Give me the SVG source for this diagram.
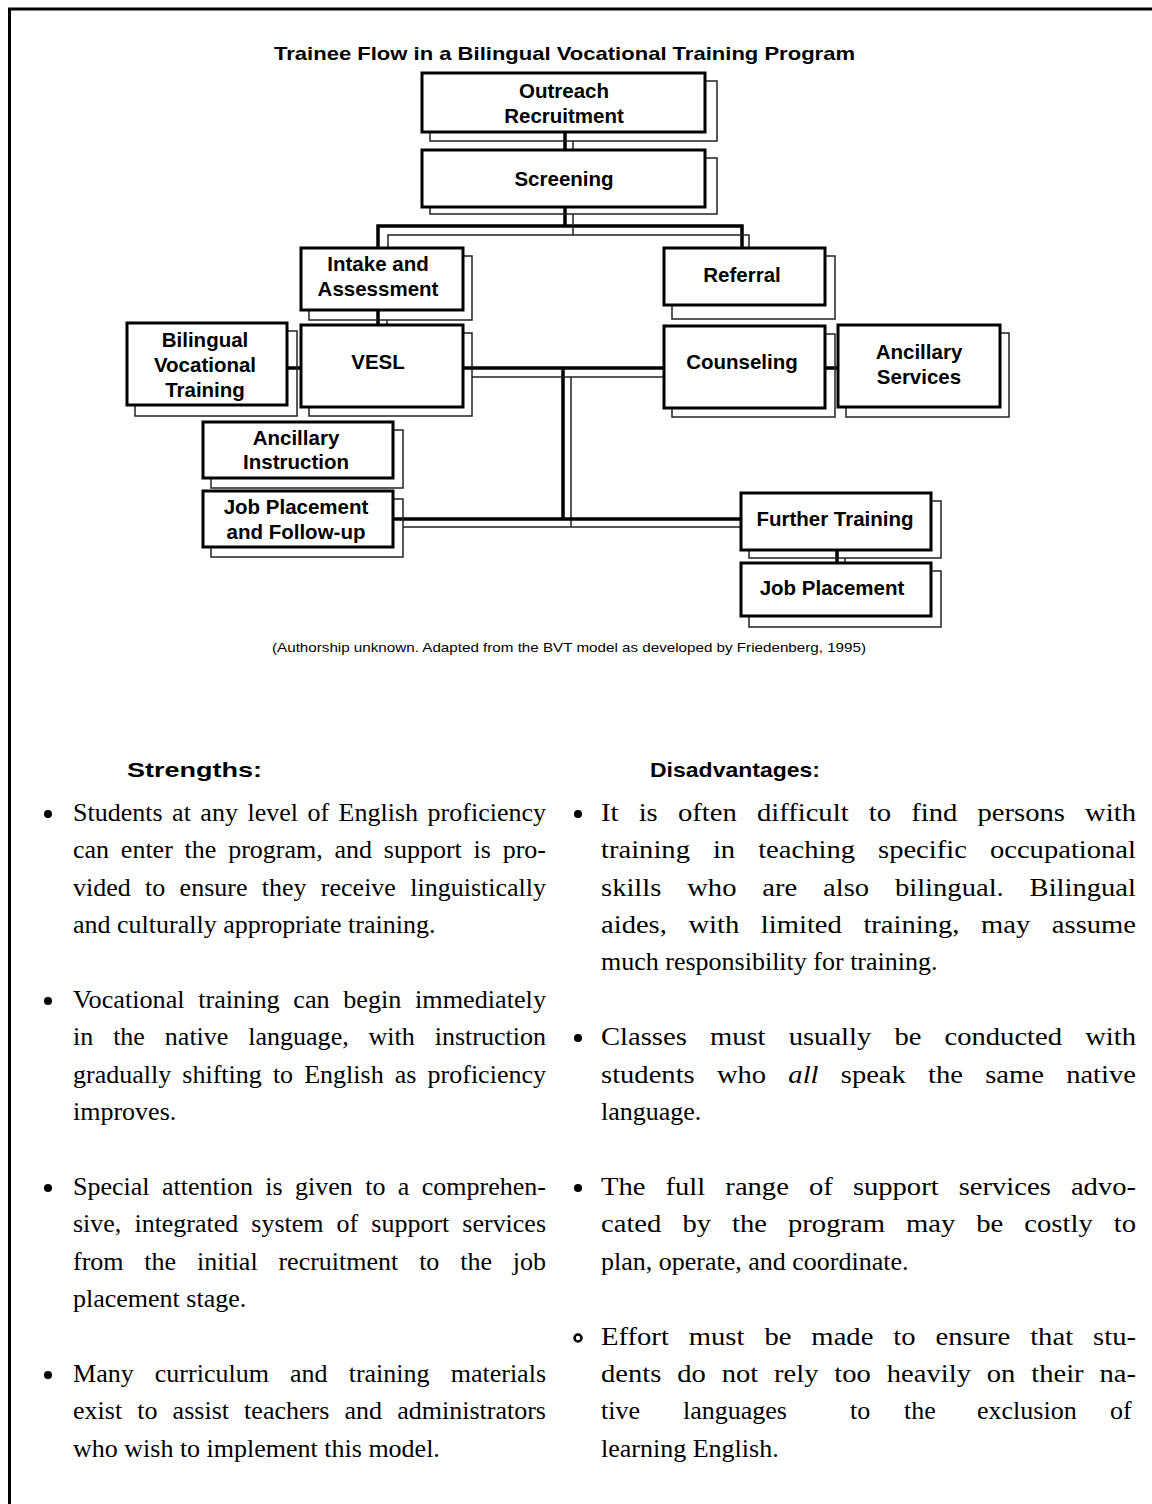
<svg xmlns="http://www.w3.org/2000/svg" width="1152" height="1504" viewBox="0 0 1152 1504">
  <style>
    .page { fill: none; stroke: #000; stroke-width: 3; }
    .box { fill: #fff; stroke: #000; stroke-width: 3; }
    .shadow { fill: none; stroke: #222; stroke-width: 1.5; }
    .lbl { font-family: "Liberation Sans", Arial, sans-serif; font-weight: bold; font-size: 20.5px; text-anchor: middle; fill: #000; }
    .title { font-family: "Liberation Sans", Arial, sans-serif; font-weight: bold; font-size: 19px; fill: #000; }
    .caption { font-family: "Liberation Sans", Arial, sans-serif; font-size: 13.5px; fill: #000; }
    .wire { stroke: #000; stroke-width: 3.5; fill: none; }
    .wire2 { stroke: #222; stroke-width: 1.5; fill: none; }
    .head { font-family: "Liberation Sans", Arial, sans-serif; font-weight: bold; font-size: 21px; fill: #000; }
    .body { font-family: "Liberation Serif", "Times New Roman", serif; font-size: 26px; fill: #000; }
    .bullet { fill: #000; }
  </style>

  <!-- page frame: left and top rules -->
  <path class="page" d="M 9.5 1504 V 9 H 1152"/>

  <text class="title" x="274" y="60" textLength="581" lengthAdjust="spacingAndGlyphs">Trainee Flow in a Bilingual Vocational Training Program</text>

  <!-- connectors -->
  <g id="connectors">
    <!-- Outreach -> Screening -->
    <path class="wire" d="M 565 132 V 150"/>
    <path class="wire2" d="M 573 141 V 150"/>
    <!-- Screening -> Intake / Referral -->
    <path class="wire" d="M 565 207 V 226 M 378 248 V 226 H 742 V 248"/>
    <path class="wire2" d="M 573 214 V 235 M 388 248 V 235 H 749 V 248"/>
    <!-- Intake -> VESL -->
    <path class="wire" d="M 378 310 V 325"/>
    <path class="wire2" d="M 387 320 V 325"/>
    <!-- Bilingual Vocational Training - VESL -->
    <path class="wire" d="M 287 368 H 301"/>
    <!-- VESL - Counseling, trunk down -->
    <path class="wire" d="M 463 368 H 664 M 563 368 V 519"/>
    <path class="wire2" d="M 472 377 H 664 M 571 377 V 527"/>
    <!-- Counseling - Ancillary Services -->
    <path class="wire" d="M 825 368 H 838"/>
    <!-- Job Placement and Follow-up - Further Training -->
    <path class="wire" d="M 393 519 H 741"/>
    <path class="wire2" d="M 403 527 H 741"/>
    <!-- Further Training -> Job Placement -->
    <path class="wire" d="M 837 550 V 563"/>
    <path class="wire2" d="M 845 558 V 563"/>
  </g>

  <g id="outreach">
    <rect class="shadow" x="430" y="81" width="287" height="60"/>
    <rect class="box" x="422" y="73" width="283" height="59"/>
    <text class="lbl" x="564" y="98">Outreach</text>
    <text class="lbl" x="564" y="123">Recruitment</text>
  </g>

  <g id="screening">
    <rect class="shadow" x="430" y="158" width="287" height="56"/>
    <rect class="box" x="422" y="150" width="283" height="57"/>
    <text class="lbl" x="564" y="186">Screening</text>
  </g>

  <g id="intake">
    <rect class="shadow" x="309" y="256" width="163" height="64"/>
    <rect class="box" x="301" y="248" width="162" height="62"/>
    <text class="lbl" x="378" y="271">Intake and</text>
    <text class="lbl" x="378" y="296">Assessment</text>
  </g>

  <g id="referral">
    <rect class="shadow" x="672" y="256" width="163" height="63"/>
    <rect class="box" x="664" y="248" width="161" height="57"/>
    <text class="lbl" x="742" y="282">Referral</text>
  </g>

  <g id="bvt">
    <rect class="shadow" x="135" y="331" width="162" height="85"/>
    <rect class="box" x="127" y="323" width="160" height="82"/>
    <text class="lbl" x="205" y="347">Bilingual</text>
    <text class="lbl" x="205" y="372">Vocational</text>
    <text class="lbl" x="205" y="397">Training</text>
  </g>

  <g id="vesl">
    <rect class="shadow" x="309" y="333" width="163" height="83"/>
    <rect class="box" x="301" y="325" width="162" height="82"/>
    <text class="lbl" x="378" y="369">VESL</text>
  </g>

  <g id="counseling">
    <rect class="shadow" x="672" y="334" width="163" height="83"/>
    <rect class="box" x="664" y="326" width="161" height="82"/>
    <text class="lbl" x="742" y="369">Counseling</text>
  </g>

  <g id="ancillary-services">
    <rect class="shadow" x="846" y="333" width="163" height="84"/>
    <rect class="box" x="838" y="325" width="162" height="82"/>
    <text class="lbl" x="919" y="359">Ancillary</text>
    <text class="lbl" x="919" y="384">Services</text>
  </g>

  <g id="ancillary-instruction">
    <rect class="shadow" x="211" y="430" width="192" height="58"/>
    <rect class="box" x="203" y="422" width="190" height="56"/>
    <text class="lbl" x="296" y="445">Ancillary</text>
    <text class="lbl" x="296" y="469">Instruction</text>
  </g>

  <g id="job-placement-follow-up">
    <rect class="shadow" x="211" y="499" width="192" height="58"/>
    <rect class="box" x="203" y="491" width="190" height="56"/>
    <text class="lbl" x="296" y="514">Job Placement</text>
    <text class="lbl" x="296" y="539">and Follow-up</text>
  </g>

  <g id="further-training">
    <rect class="shadow" x="749" y="501" width="192" height="57"/>
    <rect class="box" x="741" y="493" width="190" height="57"/>
    <text class="lbl" x="835" y="526">Further Training</text>
  </g>

  <g id="job-placement">
    <rect class="shadow" x="749" y="571" width="192" height="56"/>
    <rect class="box" x="741" y="563" width="190" height="53"/>
    <text class="lbl" x="832" y="595">Job Placement</text>
  </g>

  <text class="caption" x="272" y="652" textLength="594" lengthAdjust="spacingAndGlyphs">(Authorship unknown. Adapted from the BVT model as developed by Friedenberg, 1995)</text>

  <!-- Strengths column: justified lines set to the column measure -->
  <text class="head" x="127" y="777" textLength="135" lengthAdjust="spacingAndGlyphs">Strengths:</text>
  <g id="strengths">
    <circle class="bullet" cx="48" cy="814" r="4"/>
    <text class="body" x="73" y="821" word-spacing="3" textLength="473" lengthAdjust="spacingAndGlyphs">Students at any level of English proficiency</text>
    <text class="body" x="73" y="858" word-spacing="5.3" textLength="473" lengthAdjust="spacingAndGlyphs">can enter the program, and support is pro-</text>
    <text class="body" x="73" y="896" word-spacing="7.8" textLength="473" lengthAdjust="spacingAndGlyphs">vided to ensure they receive linguistically</text>
    <text class="body" x="73" y="933">and culturally appropriate training.</text>

    <circle class="bullet" cx="48" cy="1001" r="4"/>
    <text class="body" x="73" y="1008" word-spacing="7" textLength="473" lengthAdjust="spacingAndGlyphs">Vocational training can begin immediately</text>
    <text class="body" x="73" y="1045" word-spacing="13.4" textLength="473" lengthAdjust="spacingAndGlyphs">in the native language, with instruction</text>
    <text class="body" x="73" y="1083" word-spacing="4.6" textLength="473" lengthAdjust="spacingAndGlyphs">gradually shifting to English as proficiency</text>
    <text class="body" x="73" y="1120">improves.</text>

    <circle class="bullet" cx="48" cy="1188" r="4"/>
    <text class="body" x="73" y="1195" word-spacing="5.9" textLength="473" lengthAdjust="spacingAndGlyphs">Special attention is given to a comprehen-</text>
    <text class="body" x="73" y="1232" word-spacing="6.6" textLength="473" lengthAdjust="spacingAndGlyphs">sive, integrated system of support services</text>
    <text class="body" x="73" y="1270" word-spacing="14.3" textLength="473" lengthAdjust="spacingAndGlyphs">from the initial recruitment to the job</text>
    <text class="body" x="73" y="1307">placement stage.</text>

    <circle class="bullet" cx="48" cy="1375" r="4"/>
    <text class="body" x="73" y="1382" word-spacing="14.6" textLength="473" lengthAdjust="spacingAndGlyphs">Many curriculum and training materials</text>
    <text class="body" x="73" y="1419" word-spacing="8.6" textLength="473" lengthAdjust="spacingAndGlyphs">exist to assist teachers and administrators</text>
    <text class="body" x="73" y="1457">who wish to implement this model.</text>
  </g>

  <!-- Disadvantages column: justified lines slightly widened to the column measure -->
  <text class="head" x="650" y="777" textLength="170" lengthAdjust="spacingAndGlyphs">Disadvantages:</text>
  <g id="disadvantages">
    <circle class="bullet" cx="578" cy="814" r="4"/>
    <text class="body" x="601" y="821" word-spacing="11.8" textLength="535" lengthAdjust="spacingAndGlyphs">It is often difficult to find persons with</text>
    <text class="body" x="601" y="858" word-spacing="14.4" textLength="535" lengthAdjust="spacingAndGlyphs">training in teaching specific occupational</text>
    <text class="body" x="601" y="896" word-spacing="17" textLength="535" lengthAdjust="spacingAndGlyphs">skills who are also bilingual. Bilingual</text>
    <text class="body" x="601" y="933" word-spacing="13.1" textLength="535" lengthAdjust="spacingAndGlyphs">aides, with limited training, may assume</text>
    <text class="body" x="601" y="970">much responsibility for training.</text>

    <circle class="bullet" cx="578" cy="1038" r="4"/>
    <text class="body" x="601" y="1045" word-spacing="14.5" textLength="535" lengthAdjust="spacingAndGlyphs">Classes must usually be conducted with</text>
    <text class="body" x="601" y="1083" word-spacing="13.7" textLength="535" lengthAdjust="spacingAndGlyphs">students who <tspan font-style="italic">all</tspan> speak the same native</text>
    <text class="body" x="601" y="1120">language.</text>

    <circle class="bullet" cx="578" cy="1188" r="4"/>
    <text class="body" x="601" y="1195" word-spacing="11.8" textLength="535" lengthAdjust="spacingAndGlyphs">The full range of support services advo-</text>
    <text class="body" x="601" y="1232" word-spacing="12.6" textLength="535" lengthAdjust="spacingAndGlyphs">cated by the program may be costly to</text>
    <text class="body" x="601" y="1270">plan, operate, and coordinate.</text>

    <circle cx="578" cy="1338" r="3.5" fill="#fff" stroke="#000" stroke-width="2.5"/>
    <text class="body" x="601" y="1345" word-spacing="11.6" textLength="535" lengthAdjust="spacingAndGlyphs">Effort must be made to ensure that stu-</text>
    <text class="body" x="601" y="1382" word-spacing="7.9" textLength="535" lengthAdjust="spacingAndGlyphs">dents do not rely too heavily on their na-</text>
    <text class="body" y="1419"><tspan x="601">tive</tspan><tspan x="683">languages</tspan><tspan x="850">to</tspan><tspan x="904">the</tspan><tspan x="977">exclusion</tspan><tspan x="1110">of</tspan></text>
    <text class="body" x="601" y="1457">learning English.</text>
  </g>
</svg>
